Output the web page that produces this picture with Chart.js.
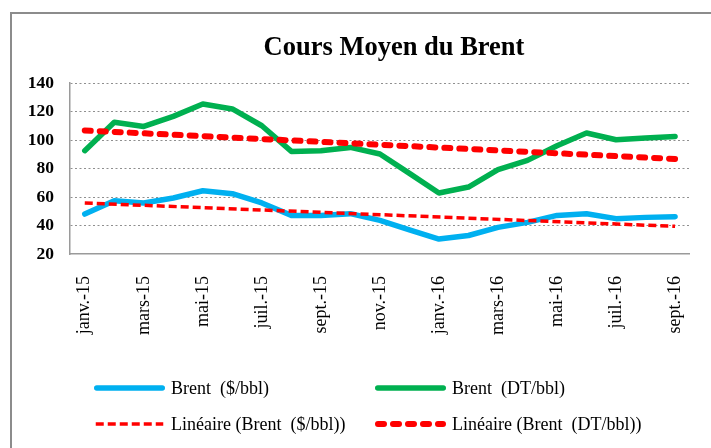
<!DOCTYPE html>
<html>
<head>
<meta charset="utf-8">
<script src="https://cdn.jsdelivr.net/npm/chart.js@4.4.0/dist/chart.umd.min.js"></script>
<style>
  html, body { margin: 0; padding: 0; background: #fff; overflow: hidden; }
  #frame { position: absolute; left: 10px; top: 12px; width: 740px; height: 470px;
           border-left: 2px solid #8c8c8c; border-top: 2px solid #8c8c8c; }
  #wrap { position: absolute; left: 0; top: 0; width: 711px; height: 448px; }
</style>
</head>
<body>
<div id="frame"></div>
<div id="wrap"><canvas id="brentChart"></canvas></div>
<script>
// monthly labels, janv. 2015 -> sept. 2016
const months = [
  "janv.-15", "févr.-15", "mars-15", "avr.-15", "mai-15", "juin-15", "juil.-15",
  "août-15", "sept.-15", "oct.-15", "nov.-15", "déc.-15", "janv.-16", "févr.-16",
  "mars-16", "avr.-16", "mai-16", "juin-16", "juil.-16", "août-16", "sept.-16"
];

// Brent price in $/bbl and in DT/bbl
const brentUsd = [48, 57.4, 55.8, 59.3, 64.4, 62.3, 55.8, 47.1, 47.1, 48.3, 43.6,
  37, 30.5, 33, 38.7, 42.2, 47.1, 48.3, 44.8, 45.7, 46.2];
const brentDt = [92.5, 112.4, 109.5, 116.6, 125.3, 121.8, 110, 92, 92.5, 94.8, 90.2,
  76.6, 62.8, 67, 79.2, 85.7, 96, 104.9, 100.2, 101.4, 102.5];

// linear trend lines: value at first and last month
const trendUsdEnds = [55.8, 39.4];
const trendDtEnds = [106.7, 86.7];

// y axis
const yMin = 20;
const yMax = 140;
const yStep = 20;

const serif = "'Liberation Serif', 'Times New Roman', serif";

function endsToSeries(ends) {
  return months.map((m, i) => {
    if (i === 0) return ends[0];
    if (i === months.length - 1) return ends[1];
    return null;
  });
}

// title drawn by hand so it can sit off-centre like in Excel
const titlePlugin = {
  id: "brentTitle",
  afterDraw(chart) {
    const ctx = chart.ctx;
    ctx.save();
    ctx.font = "bold 26.5px " + serif;
    ctx.fillStyle = "#000";
    ctx.textAlign = "center";
    ctx.textBaseline = "alphabetic";
    ctx.fillText("Cours Moyen du Brent", 394, 55);
    ctx.restore();
  }
};

// 2x2 legend grid under the chart
const legendPlugin = {
  id: "gridLegend",
  afterDraw(chart) {
    const ctx = chart.ctx;
    const cols = [94, 375];
    const rows = [388, 424];
    const lineLen = 71;
    ctx.save();
    ctx.font = "18px " + serif;
    ctx.fillStyle = "#000";
    ctx.textBaseline = "middle";
    chart.data.datasets.forEach((ds, k) => {
      const x = cols[k % 2];
      const y = rows[Math.floor(k / 2)];
      ctx.beginPath();
      ctx.lineWidth = ds.borderWidth;
      ctx.strokeStyle = ds.borderColor;
      ctx.lineCap = ds.borderCapStyle || "butt";
      ctx.setLineDash(ds.borderDash || []);
      ctx.moveTo(x + ds.borderWidth / 2, y);
      ctx.lineTo(x + lineLen - ds.borderWidth / 2, y);
      ctx.stroke();
      ctx.setLineDash([]);
      ctx.fillText(ds.label, x + lineLen + 6, y + 1);
    });
    ctx.restore();
  }
};

const ctx = document.getElementById("brentChart").getContext("2d");
const brentChart = new Chart(ctx, {
  type: "line",
  data: {
    labels: months,
    datasets: [
      {
        label: "Brent  ($/bbl)",
        data: brentUsd,
        borderColor: "#00B0F0",
        borderWidth: 5.5,
        borderCapStyle: "round",
        borderJoinStyle: "round",
        pointRadius: 0,
        order: 2
      },
      {
        label: "Brent  (DT/bbl)",
        data: brentDt,
        borderColor: "#00B050",
        borderWidth: 5.5,
        borderCapStyle: "round",
        borderJoinStyle: "round",
        pointRadius: 0,
        order: 2
      },
      {
        label: "Linéaire (Brent  ($/bbl))",
        data: endsToSeries(trendUsdEnds),
        borderColor: "#FF0000",
        borderWidth: 3.5,
        borderDash: [8, 4],
        borderCapStyle: "butt",
        spanGaps: true,
        pointRadius: 0,
        order: 1
      },
      {
        label: "Linéaire (Brent  (DT/bbl))",
        data: endsToSeries(trendDtEnds),
        borderColor: "#FF0000",
        borderWidth: 6,
        borderDash: [6, 9],
        borderCapStyle: "round",
        spanGaps: true,
        pointRadius: 0,
        order: 0
      }
    ]
  },
  options: {
    responsive: true,
    maintainAspectRatio: false,
    animation: false,
    layout: {
      padding: { top: 83, left: 0, right: 14, bottom: 104 }
    },
    plugins: {
      legend: { display: false },
      title: { display: false },
      tooltip: { enabled: false }
    },
    scales: {
      x: {
        offset: true,
        grid: { display: false },
        border: { display: true, color: "#9a9a9a", width: 1.5 },
        ticks: {
          autoSkip: false,
          minRotation: 90,
          maxRotation: 90,
          padding: 14,
          color: "#000",
          font: { family: serif, size: 18 },
          callback: (v, i) => (i % 2 === 0 ? months[i] : "")
        },
        afterFit: (scale) => { scale.height = 90; }
      },
      y: {
        min: yMin,
        max: yMax,
        grid: {
          color: (c) => (c.tick && c.tick.value === yMin ? "rgba(0,0,0,0)" : "#8f8f8f"),
          lineWidth: 1,
          drawTicks: false
        },
        border: { display: true, color: "#9a9a9a", width: 1.5, dash: [2, 2.5] },
        ticks: {
          stepSize: yStep,
          padding: 16,
          color: "#000",
          font: { family: serif, size: 17.5, weight: "bold" }
        },
        afterFit: (scale) => { scale.width = 70; }
      }
    }
  },
  plugins: [titlePlugin, legendPlugin]
});
</script>
</body>
</html>
